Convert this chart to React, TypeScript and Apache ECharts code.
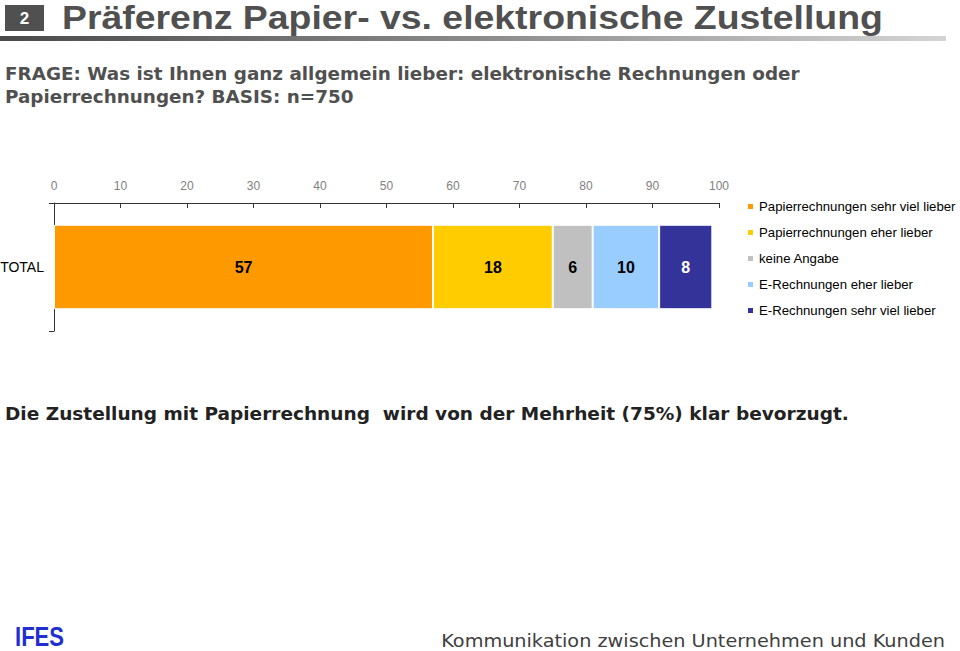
import React, { useEffect, useRef } from "react";
import * as echarts from "echarts";

const categories = ["TOTAL"];
const seriesNames = [
  "Papierrechnungen sehr viel lieber",
  "Papierrechnungen eher lieber",
  "keine Angabe",
  "E-Rechnungen eher lieber",
  "E-Rechnungen sehr viel lieber",
];
const seriesValues = [[57], [18], [6], [10], [8]];
const seriesColors = ["#FF9900", "#FFCC00", "#C0C0C0", "#99CCFF", "#333399"];
const labelColors = ["#000000", "#000000", "#000000", "#000000", "#FFFFFF"];

const titleText = "Präferenz Papier- vs. elektronische Zustellung";
const questionLine1 = "FRAGE: Was ist Ihnen ganz allgemein lieber: elektronische Rechnungen oder";
const questionLine2 = "Papierrechnungen? BASIS: n=750";
const conclusion = "Die Zustellung mit Papierrechnung  wird von der Mehrheit (75%) klar bevorzugt.";
const footer = "Kommunikation zwischen Unternehmen und Kunden";

export default function App() {
  const ref = useRef<HTMLDivElement>(null);
  useEffect(() => {
    const chart = echarts.init(ref.current!, null, { renderer: "svg" });
    chart.setOption({
      animation: false,
      backgroundColor: "#ffffff",
      grid: { left: 54, right: 241, top: 203, height: 128, containLabel: false, outerBoundsMode: "none" },
      legend: {
        orient: "vertical",
        left: 741,
        top: 195,
        itemWidth: 7,
        itemHeight: 7,
        itemGap: 13,
        icon: "rect",
        data: seriesNames,
        textStyle: { fontFamily: "Liberation Sans, Arial", fontSize: 13.2, lineHeight: 13, color: "#000" },
      },
      xAxis: {
        type: "value",
        position: "top",
        min: 0,
        max: 100,
        interval: 10,
        axisLine: { show: true, lineStyle: { color: "#333", width: 1 } },
        axisTick: { show: true, inside: true, length: 5, lineStyle: { color: "#333" } },
        splitLine: { show: false },
        axisLabel: { color: "#808080", fontSize: 12, fontFamily: "Liberation Sans, Arial", margin: 11 },
      },
      yAxis: {
        type: "category",
        data: categories,
        axisLine: { show: true, lineStyle: { color: "#333", width: 1 } },
        axisTick: { show: true, length: 5, lineStyle: { color: "#333" } },
        axisLabel: { color: "#000", fontSize: 14, fontFamily: "Liberation Sans, Arial", margin: 10 },
      },
      series: seriesNames.map((name, i) => ({
        name,
        type: "bar",
        stack: "total",
        barWidth: "66%",
        data: seriesValues[i],
        itemStyle: { color: seriesColors[i], borderColor: "#fff", borderWidth: 1 },
        label: {
          show: true,
          position: "inside",
          color: labelColors[i],
          fontSize: 16,
          fontWeight: "bold",
          fontFamily: "Liberation Sans, Arial",
        },
      })),
      graphic: [
        { type: "rect", shape: { x: 5, y: 5, width: 39, height: 26 }, style: { fill: "#505050" } },
        {
          type: "text",
          x: 24.5,
          y: 18,
          style: { text: "2", fill: "#fff", font: "bold 17px 'Liberation Sans', Arial", align: "center", verticalAlign: "middle" },
        },
        {
          type: "text",
          x: 62,
          y: 18,
          scaleX: 1.1,
          style: { text: titleText, fill: "#505050", font: "bold 34px 'Liberation Sans', Arial", verticalAlign: "middle" },
        },
        {
          type: "rect",
          shape: { x: 0, y: 36, width: 946, height: 5 },
          style: {
            fill: new echarts.graphic.LinearGradient(0, 0, 1, 0, [
              { offset: 0, color: "#4a4a4a" },
              { offset: 0.5, color: "#8a8a8a" },
              { offset: 1, color: "#d4d4d4" },
            ]),
          },
        },
        {
          type: "text",
          x: 5,
          y: 74,
          scaleX: 1.08,
          style: { text: questionLine1, fill: "#505050", font: "bold 17px 'DejaVu Sans'", verticalAlign: "middle" },
        },
        {
          type: "text",
          x: 5,
          y: 97,
          scaleX: 1.08,
          style: { text: questionLine2, fill: "#505050", font: "bold 17px 'DejaVu Sans'", verticalAlign: "middle" },
        },
        {
          type: "text",
          x: 5,
          y: 414,
          scaleX: 1.09,
          style: { text: conclusion, fill: "#222", font: "bold 17px 'DejaVu Sans'", verticalAlign: "middle" },
        },
        {
          type: "text",
          x: 15,
          y: 636,
          scaleX: 0.92,
          scaleY: 1.15,
          style: { text: "IFES", fill: "#1f2fd0", font: "bold 24px 'Liberation Sans', Arial", verticalAlign: "middle" },
        },
        {
          type: "text",
          x: 945,
          y: 641,
          scaleX: 1.07,
          style: { text: footer, fill: "#404040", font: "18px 'DejaVu Sans'", align: "right", verticalAlign: "middle" },
        },
      ],
    });
    return () => chart.dispose();
  }, []);
  return <div ref={ref} style={{ position: "fixed", left: 0, top: 0, width: 960, height: 651 }} />;
}
